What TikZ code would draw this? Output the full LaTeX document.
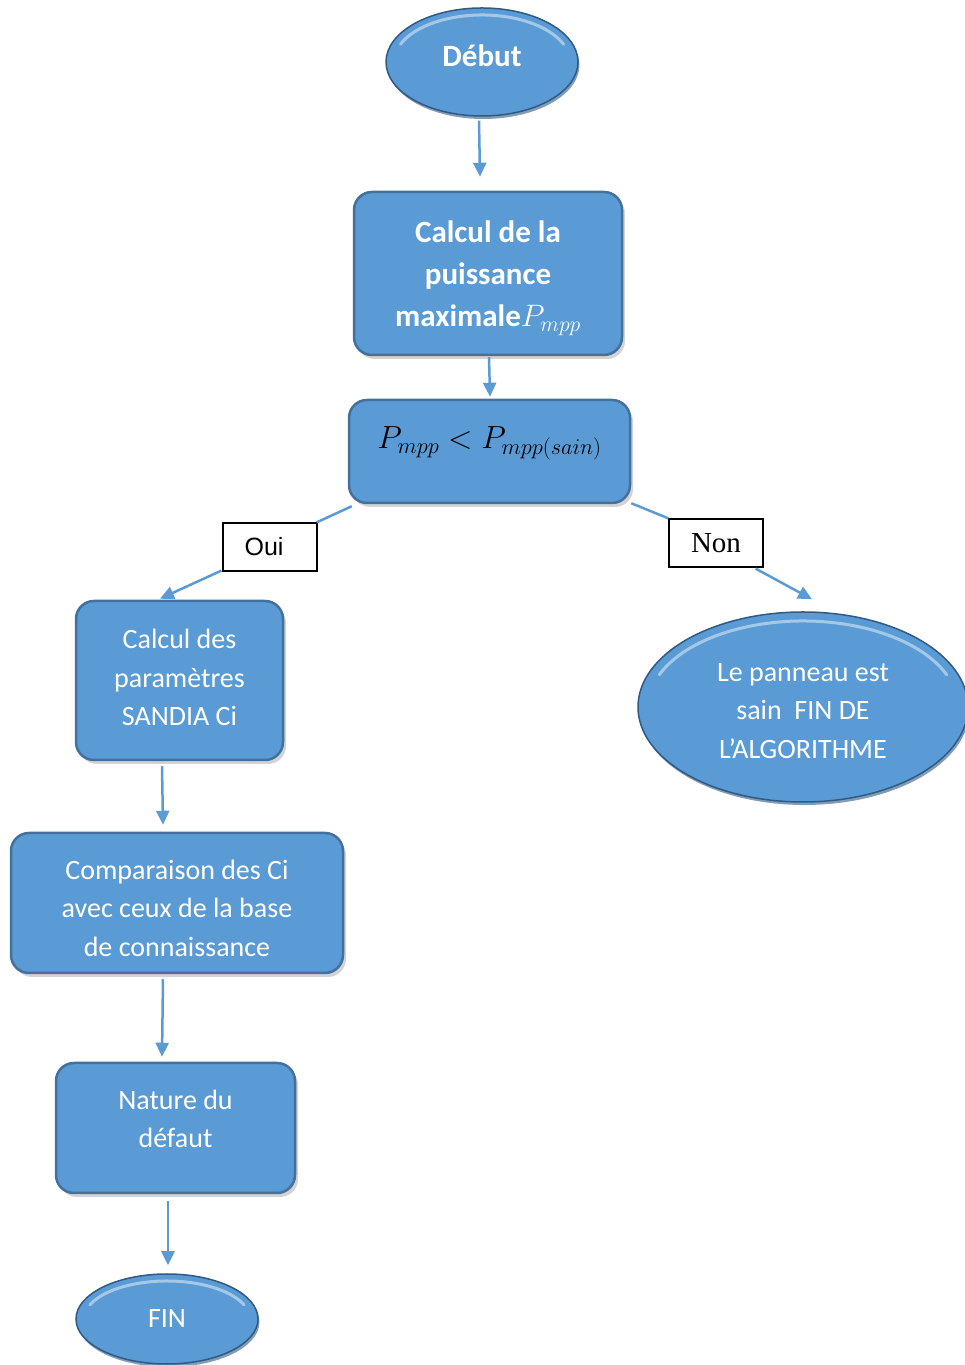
\RequirePackage{fix-cm}
\documentclass[tikz,border=0pt]{standalone}
\usepackage{fontspec}
\setmainfont{Carlito}
\newfontfamily\arialf{Liberation Sans}
\newfontfamily\timesf{Liberation Serif}
\usetikzlibrary{shapes.geometric,shadows,arrows.meta,calc}
\definecolor{boxfill}{HTML}{5B9BD5}
\definecolor{boxline}{HTML}{41719C}
\definecolor{rim}{HTML}{2E5A85}
\definecolor{conncol}{HTML}{5B9BD5}
\begin{document}
\begin{tikzpicture}[x=1pt,y=1pt,
  box/.style={draw=boxline, line width=2.5pt, fill=boxfill, rounded corners=18pt,
    text=white, align=center, inner sep=0pt,
    drop shadow={shadow xshift=3pt, shadow yshift=-4pt, opacity=0.35}},
  oval/.style={ellipse, fill=boxfill, draw=rim, line width=1.5pt, text=white,
    align=center, inner sep=0pt,
    drop shadow={shadow xshift=1.5pt, shadow yshift=-3pt, opacity=0.6, fill=rim}},
  reg/.style={font=\fontsize{28}{38.5}\selectfont},
  bld/.style={font=\fontsize{31}{42}\selectfont\bfseries},
  tag/.style={draw=black, line width=1.2pt, fill=white, text=black, inner sep=0pt,
    minimum width=94pt, minimum height=48pt},
  conn/.style={draw=conncol, line width=2.5pt},
  arr/.style={conn, -{Triangle[length=14pt,width=13pt]}},
  hl/.style={white, opacity=0.45, line width=3pt, line cap=round}
]
\useasboundingbox (0,0) rectangle (964,1365);

% nodes
\node[oval, bld, minimum width=192pt, minimum height=108pt] (debut) at (482,1303)
  {D\'ebut\rule[-12pt]{0pt}{0pt}};
\node[box, bld, minimum width=268pt, minimum height=163pt] (b1) at (488,1091.5)
  {\raisebox{10pt}{\vphantom{Cl}}Calcul de la\\ puissance\\ maximale$P_{mpp}$};
\node[box, font=\fontsize{32}{40}\selectfont, text=black, minimum width=281pt, minimum height=103pt] (b2) at (489.5,913.5)
  {$P_{mpp} < P_{mpp(sain)}$\rule[-28pt]{0pt}{0pt}};
\node[tag, font=\arialf\fontsize{25}{30}\selectfont] (oui) at (270,818) {\hspace{-12pt}Oui};
\node[tag, font=\timesf\fontsize{29}{34}\selectfont] (non) at (716,822) {Non};
\node[box, reg, minimum width=207pt, minimum height=159pt] (b3) at (179.5,684.5)
  {Calcul des\\ param\`etres\\ SANDIA Ci\rule[-6pt]{0pt}{0pt}};
\node[oval, reg, minimum width=330pt, minimum height=190pt] (sain) at (803,658)
  {\raisebox{6pt}{\vphantom{Ld}}Le panneau est\\ sain\ \ FIN DE\\ L’ALGORITHME};
\node[box, reg, minimum width=332pt, minimum height=140pt] (b4) at (177,462)
  {\raisebox{10pt}{\vphantom{Cd}}Comparaison des Ci\\ avec ceux de la base\\ de connaissance};
\node[box, reg, minimum width=239pt, minimum height=130pt] (b5) at (175.5,237)
  {Nature du\\ d\'efaut\rule[-18pt]{0pt}{0pt}};
\node[oval, reg, minimum width=182pt, minimum height=90pt] (fin) at (167,46) {FIN};

% highlights on ovals
\draw[hl] ($(debut.center)+(158:88 and 47)$) arc[start angle=158, end angle=22, x radius=88, y radius=47];
\draw[hl] ($(fin.center)+(158:83 and 38)$) arc[start angle=158, end angle=22, x radius=83, y radius=38];
\draw[hl] ($(sain.center)+(158:155 and 86)$) arc[start angle=158, end angle=22, x radius=155, y radius=86];

% connectors
\draw[arr] ($(debut.south)+(-3,-4)$) -- ($(b1.north)+(-8,14)$);
\draw[arr] ($(b1.south)+(1,-1)$) -- ($(b2.north)+(0.5,2)$);
\draw[conn] ($(b2.south west)+(4,-2)$) -- ($(oui.north east)+(-1,0)$);
\draw[arr] ($(oui.south west)+(-1,1)$) -- ($(b3.north)+(-19.5,1)$);
\draw[conn] ($(b2.south east)+(0,1)$) -- (non.north west);
\draw[arr] ($(non.south east)+(-8,-1)$) -- ($(sain.north)+(9,12)$);
\draw[arr] ($(b3.south)+(-17.5,-5)$) -- ($(b4.north)+(-14,7)$);
\draw[arr] ($(b4.south)+(-14,-5)$) -- ($(b5.north)+(-13.5,5)$);
\draw[arr] ($(b5.south)+(-7.5,-7)$) -- ($(fin.north)+(1,8)$);
\end{tikzpicture}
\end{document}
